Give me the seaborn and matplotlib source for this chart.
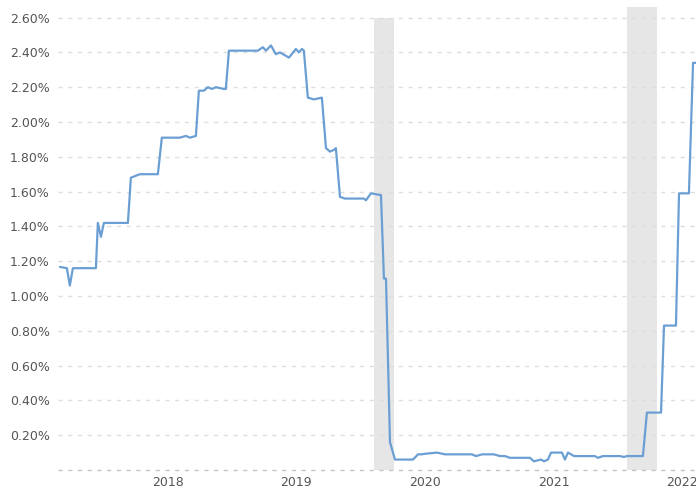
import matplotlib
matplotlib.use("Agg")
import matplotlib.pyplot as plt
import seaborn as sns
import pandas as pd
from matplotlib.ticker import FuncFormatter

# Rate series (decimal year, percent)
years = [
    2017.160, 2017.214, 2017.237, 2017.261, 2017.440, 2017.455, 2017.479, 2017.502,
    2017.689, 2017.712, 2017.782, 2017.922, 2017.953, 2018.016, 2018.093, 2018.140,
    2018.171, 2018.218, 2018.241, 2018.280, 2018.311, 2018.342, 2018.374, 2018.436,
    2018.451, 2018.475, 2018.700, 2018.739, 2018.763, 2018.802, 2018.840, 2018.872,
    2018.895, 2018.942, 2018.996, 2019.019, 2019.043, 2019.058, 2019.089, 2019.136,
    2019.198, 2019.230, 2019.261, 2019.292, 2019.307, 2019.339, 2019.377, 2019.416,
    2019.525, 2019.541, 2019.580, 2019.658, 2019.681, 2019.697, 2019.728, 2019.767,
    2019.907, 2019.946, 2019.969, 2020.023, 2020.093, 2020.156, 2020.366, 2020.397,
    2020.444, 2020.537, 2020.584, 2020.623, 2020.661, 2020.817, 2020.848, 2020.903,
    2020.926, 2020.957, 2020.981, 2021.066, 2021.089, 2021.113, 2021.160, 2021.323,
    2021.346, 2021.385, 2021.518, 2021.549, 2021.572, 2021.696, 2021.727, 2021.837,
    2021.860, 2021.953, 2021.977, 2022.054, 2022.086, 2022.117,
]
rates = [
    1.167, 1.16, 1.06, 1.16, 1.16, 1.42, 1.34, 1.42,
    1.42, 1.68, 1.70, 1.70, 1.91, 1.91, 1.91, 1.92,
    1.91, 1.92, 2.18, 2.18, 2.20, 2.19, 2.20, 2.19,
    2.19, 2.41, 2.41, 2.43, 2.41, 2.44, 2.39, 2.40,
    2.39, 2.37, 2.42, 2.40, 2.42, 2.41, 2.14, 2.13,
    2.14, 1.85, 1.83, 1.84, 1.85, 1.57, 1.56, 1.56,
    1.56, 1.55, 1.59, 1.58, 1.10, 1.10, 0.16, 0.06,
    0.06, 0.09, 0.09, 0.095, 0.10, 0.09, 0.09, 0.08,
    0.09, 0.09, 0.08, 0.08, 0.07, 0.07, 0.05, 0.06,
    0.05, 0.06, 0.10, 0.10, 0.06, 0.10, 0.08, 0.08,
    0.07, 0.08, 0.08, 0.075, 0.08, 0.08, 0.33, 0.33,
    0.83, 0.83, 1.59, 1.59, 2.34, 2.34,
]

# Shaded periods (start, end, top value)
band_starts = [2019.604, 2021.576]
band_ends = [2019.759, 2021.802]
band_tops = [2.60, 2.66]

year_ticks = [2018, 2019, 2020, 2021, 2022]
y_ticks = [0.0, 0.2, 0.4, 0.6, 0.8, 1.0, 1.2, 1.4, 1.6, 1.8, 2.0, 2.2, 2.4, 2.6]

df = pd.DataFrame({"year": years, "rate": rates})

sns.set_theme(style="white")
plt.rcParams["font.family"] = ["DejaVu Sans"]

fig = plt.figure(figsize=(6.96, 4.90), dpi=100)
ax = fig.add_axes([58 / 696, 20 / 490, 1 - 58 / 696, 463 / 490])

y_min, y_max = 0.0, 2.661
ax.set_xlim(2017.145, 2022.109)
ax.set_ylim(y_min, y_max)

for s, e, t in zip(band_starts, band_ends, band_tops):
    ax.axvspan(s, e, ymin=0, ymax=(t - y_min) / (y_max - y_min),
               color="#e6e6e6", lw=0, zorder=0)

for v in y_ticks:
    ax.axhline(v, color="#c4c4c4" if v == 0 else "#dedede", lw=1.0,
               ls=(0, (3, 4)), zorder=1, clip_on=False)

sns.lineplot(data=df, x="year", y="rate", ax=ax, color="#6b9fd4",
             lw=1.6, zorder=3, legend=False)

ax.set_yticks(y_ticks)
ax.yaxis.set_major_formatter(
    FuncFormatter(lambda v, _: "" if v == 0 else f"{v:.2f}%"))
ax.set_xticks(year_ticks)
ax.set_xticklabels([str(y) for y in year_ticks])
ax.tick_params(axis="both", length=0, labelsize=9, labelcolor="#555555")
ax.tick_params(axis="y", pad=6)
ax.tick_params(axis="x", pad=4)
ax.set_xlabel("")
ax.set_ylabel("")
for sp in ax.spines.values():
    sp.set_visible(False)

fig.savefig("out.png", dpi=100)
